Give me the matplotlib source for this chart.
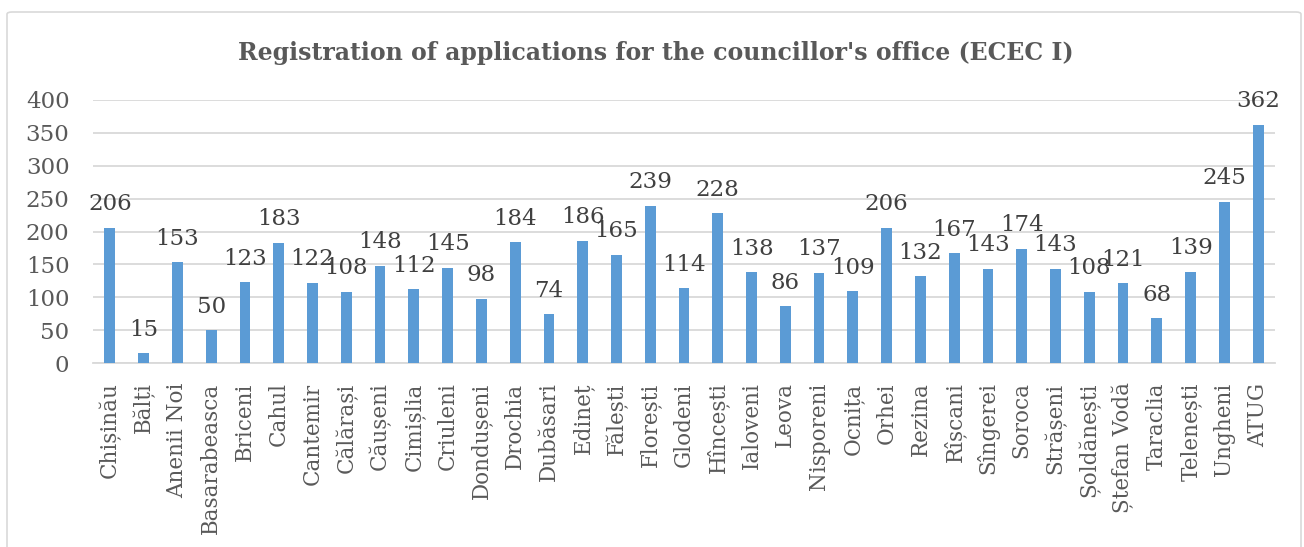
import matplotlib
matplotlib.use("Agg")
import matplotlib.pyplot as plt
from matplotlib.patches import FancyBboxPatch

# Applications registered for the councillor's office, per district
districts = ["Chișinău", "Bălți", "Anenii Noi", "Basarabeasca", "Briceni", "Cahul",
             "Cantemir", "Călărași", "Căușeni", "Cimișlia", "Criuleni", "Dondușeni",
             "Drochia", "Dubăsari", "Edineț", "Fălești", "Florești", "Glodeni",
             "Hîncești", "Ialoveni", "Leova", "Nisporeni", "Ocnița", "Orhei",
             "Rezina", "Rîșcani", "Sîngerei", "Soroca", "Strășeni", "Șoldănești",
             "Ștefan Vodă", "Taraclia", "Telenești", "Ungheni", "ATUG"]
applications = [206, 15, 153, 50, 123, 183, 122, 108, 148, 112, 145, 98, 184, 74,
                186, 165, 239, 114, 228, 138, 86, 137, 109, 206, 132, 167, 143, 174,
                143, 108, 121, 68, 139, 245, 362]
y_ticks = [0, 50, 100, 150, 200, 250, 300, 350, 400]

title = "Registration of applications for the councillor's office (ECEC I)"

bar_color = "#5b9bd5"
text_color = "#595959"
grid_color = "#d9d9d9"

plt.rcParams["font.family"] = ["DejaVu Serif"]

fig = plt.figure(figsize=(13.04, 5.47), dpi=100)

# chart frame
frame = FancyBboxPatch((7 / 1304, -0.05), 1294 / 1304, 1.05 - 12 / 547,
                       boxstyle="round,pad=0,rounding_size=0.004",
                       transform=fig.transFigure, facecolor="none",
                       edgecolor=grid_color, linewidth=1.2, zorder=0)
fig.patches.append(frame)

ax = fig.add_axes([93 / 1304, 1 - 363 / 547, (1275 - 93) / 1304, 263 / 547])
ax.set_facecolor("none")

x = range(len(districts))
bars = ax.bar(x, applications, width=0.32, color=bar_color, zorder=3)
ax.bar_label(bars, labels=[str(v) for v in applications], padding=9,
             fontsize=16.5, color="#404040")

ax.set_ylim(0, 400)
ax.set_xlim(-0.5, len(districts) - 0.5)
ax.set_yticks(y_ticks)
ax.yaxis.grid(True, color=grid_color, linewidth=1.3, zorder=0)
ax.set_axisbelow(True)
ax.tick_params(axis="y", length=0, pad=17, labelsize=16.5, labelcolor=text_color)
ax.tick_params(axis="x", length=0, pad=14, labelsize=15.5, labelcolor=text_color)
ax.set_xticks(list(x))
ax.set_xticklabels(districts, rotation=90, va="top", ha="center")
for side in ["top", "right", "left"]:
    ax.spines[side].set_visible(False)
ax.spines["bottom"].set_color(grid_color)
ax.spines["bottom"].set_linewidth(1.3)

fig.text(656 / 1304, 1 - 53 / 547, title, ha="center", va="center",
         fontsize=17, fontweight="bold", color=text_color)

fig.savefig("out.png", dpi=100)
